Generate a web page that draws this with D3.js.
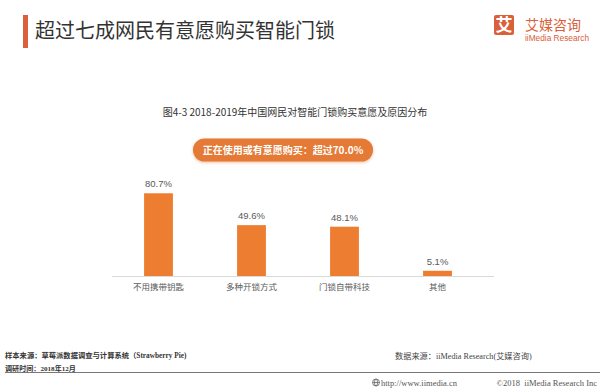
<!DOCTYPE html>
<html>
<head>
<meta charset="utf-8">
<script src="https://cdn.jsdelivr.net/npm/d3@7"></script>
<style>
  html, body { margin: 0; padding: 0; background: #fff; }
  svg { display: block; }
</style>
</head>
<body>
<svg id="chart" width="600" height="390"></svg>
<script>
// ---- data ----
const categories = ["不用携带钥匙", "多种开锁方式", "门锁自带科技", "其他"];
const values = [80.7, 49.6, 48.1, 5.1];
const valueLabels = ["80.7%", "49.6%", "48.1%", "5.1%"];
const titleText = "超过七成网民有意愿购买智能门锁";
const subtitleText = "图4-3 2018-2019年中国网民对智能门锁购买意愿及原因分布";
const pillText = "正在使用或有意愿购买：超过70.0%";
const sourceLeft1 = "样本来源：草莓派数据调查与计算系统（Strawberry Pie)";
const sourceLeft2 = "调研时间：2018年12月";
const sourceRight = "数据来源：iiMedia Research(艾媒咨询)";
const footerUrl = "http://www.iimedia.cn";
const footerCopy = "©2018  iiMedia Research Inc";

const CJK = "'Noto Sans CJK SC', 'Noto Sans', sans-serif";
const svg = d3.select("#chart");

// shadow filter for pill
const defs = svg.append("defs");
const f = defs.append("filter").attr("id", "glow").attr("x", "-20%").attr("y", "-50%").attr("width", "140%").attr("height", "200%");
f.append("feDropShadow").attr("dx", 0).attr("dy", 1).attr("stdDeviation", 1.5).attr("flood-color", "#e8a070").attr("flood-opacity", 0.7);

// ---- header ----
svg.append("rect").attr("x", 23).attr("y", 15).attr("width", 5).attr("height", 33).attr("fill", "#d9603a");
svg.append("text").attr("x", 35).attr("y", 38).attr("font-family", CJK).attr("font-size", 20)
  .attr("fill", "#333").text(titleText);

// logo
svg.append("rect").attr("x", 494).attr("y", 15).attr("width", 20).attr("height", 20).attr("rx", 2).attr("fill", "#d9603a");
svg.append("text").attr("x", 504).attr("y", 31).attr("text-anchor", "middle").attr("font-family", CJK)
  .attr("font-size", 17).attr("font-weight", "bold").attr("fill", "#fff").text("艾");
svg.append("text").attr("x", 525).attr("y", 30).attr("font-family", CJK).attr("font-size", 14)
  .attr("fill", "#d9603a").text("艾媒咨询");
svg.append("text").attr("x", 525).attr("y", 41).attr("font-family", "'Liberation Sans', sans-serif").attr("font-size", 8.3)
  .attr("fill", "#d9603a").text("iiMedia Research");

// subtitle
svg.append("text").attr("x", 295).attr("y", 115.5).attr("text-anchor", "middle").attr("font-family", CJK)
  .attr("font-size", 10).attr("fill", "#333").text(subtitleText);

// pill
svg.append("rect").attr("x", 193).attr("y", 138.5).attr("width", 180).attr("height", 23).attr("rx", 11.5)
  .attr("fill", "#e47a36").attr("filter", "url(#glow)");
svg.append("text").attr("x", 283).attr("y", 153.5).attr("text-anchor", "middle").attr("font-family", CJK)
  .attr("font-size", 10).attr("font-weight", "bold").attr("fill", "#fff").text(pillText);

// ---- chart ----
const x = d3.scaleBand().domain(categories).range([112, 484]).paddingInner(0.69).paddingOuter(0.345);
const y = d3.scaleLinear().domain([0, 100]).range([276, 173.5]);

svg.append("line").attr("x1", 112).attr("x2", 494).attr("y1", y(0) + 0.5).attr("y2", y(0) + 0.5)
  .attr("stroke", "#d9d9d9").attr("stroke-width", 1);

const data = categories.map((c, i) => ({ c, v: values[i], l: valueLabels[i] }));

svg.append("g").selectAll("rect").data(data).join("rect")
  .attr("x", d => x(d.c)).attr("width", x.bandwidth())
  .attr("y", d => y(d.v)).attr("height", d => y(0) - y(d.v))
  .attr("fill", "#ed7d31");

svg.append("g").selectAll("text").data(data).join("text")
  .attr("x", d => x(d.c) + x.bandwidth() / 2).attr("y", d => y(d.v) - 6)
  .attr("text-anchor", "middle").attr("font-family", "'Liberation Sans', sans-serif").attr("font-size", 9.5)
  .attr("fill", "#595959").text(d => d.l);

const xAxis = svg.append("g").attr("transform", `translate(0,${y(0)})`)
  .call(d3.axisBottom(x).tickSize(0).tickPadding(8));
xAxis.select(".domain").remove();
xAxis.selectAll("text").attr("font-family", CJK).attr("font-size", 8.5).attr("fill", "#595959");

// ---- footer ----
const SERIF = "'Liberation Serif', 'Noto Sans CJK SC', serif";
svg.append("text").attr("x", 5).attr("y", 358).attr("font-family", SERIF).attr("font-size", 7.3)
  .attr("font-weight", "bold").attr("fill", "#333").text(sourceLeft1);
svg.append("text").attr("x", 5).attr("y", 370.5).attr("font-family", SERIF).attr("font-size", 7.1)
  .attr("font-weight", "bold").attr("fill", "#333").text(sourceLeft2);
svg.append("text").attr("x", 395).attr("y", 359).attr("font-family", SERIF).attr("font-size", 8.2)
  .attr("fill", "#444").text(sourceRight);
svg.append("line").attr("x1", 5).attr("x2", 600).attr("y1", 372.5).attr("y2", 372.5)
  .attr("stroke", "#777").attr("stroke-width", 1);

// globe icon
const g = svg.append("g").attr("transform", "translate(376,382.5)").attr("fill", "none").attr("stroke", "#666").attr("stroke-width", 0.8);
g.append("circle").attr("r", 3.5);
g.append("ellipse").attr("rx", 1.5).attr("ry", 3.5);
g.append("line").attr("x1", -3.5).attr("x2", 3.5);

svg.append("text").attr("x", 381).attr("y", 385.5).attr("font-family", SERIF).attr("font-size", 8.5)
  .attr("fill", "#555").text(footerUrl);
svg.append("text").attr("x", 597).attr("y", 385.5).attr("text-anchor", "end").attr("font-family", SERIF).attr("font-size", 8.5)
  .attr("fill", "#555").attr("xml:space", "preserve").style("white-space", "pre").text(footerCopy);
</script>
</body>
</html>
